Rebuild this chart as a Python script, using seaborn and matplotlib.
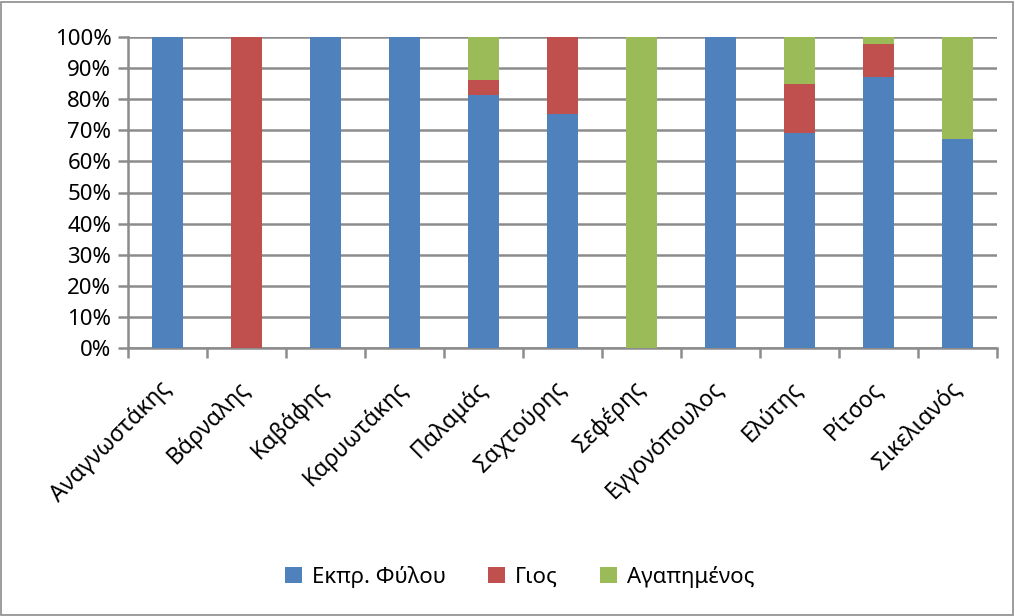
import matplotlib
matplotlib.use("Agg")
import matplotlib.pyplot as plt
import seaborn as sns
import pandas as pd
import numpy as np
from matplotlib.ticker import FixedLocator, PercentFormatter
from matplotlib.patches import Patch

poets = ["Αναγνωστάκης", "Βάρναλης", "Καβάφης", "Καρυωτάκης", "Παλαμάς", "Σαχτούρης",
         "Σεφέρης", "Εγγονόπουλος", "Ελύτης", "Ρίτσος", "Σικελιανός"]
ekpr_fylou = [100, 0, 100, 100, 81.4, 75.3, 0, 100, 69.0, 87.0, 67.1]
gios = [0, 100, 0, 0, 4.9, 24.7, 0, 0, 15.9, 10.8, 0]
agapimenos = [0, 0, 0, 0, 13.7, 0, 100, 0, 15.1, 2.2, 32.9]
series_names = ["Εκπρ. Φύλου", "Γιος", "Αγαπημένος"]
colors = ["#4F81BD", "#C0504D", "#9BBB59"]

sns.set_theme(style="white")
plt.rcParams['font.family'] = ['Noto Sans', 'DejaVu Sans']
plt.rcParams['text.color'] = '#000000'

df = pd.DataFrame({"poet": poets, "a": ekpr_fylou, "b": gios, "c": agapimenos})
df["top_c"] = df["a"] + df["b"] + df["c"]
df["top_b"] = df["a"] + df["b"]
df["top_a"] = df["a"]

fig = plt.figure(figsize=(10.15, 6.16), dpi=100)
ax = fig.add_axes([128/1015, 1 - 348/616, (997-128)/1015, (348-37)/616])

for col, c in zip(["top_c", "top_b", "top_a"], colors[::-1]):
    sns.barplot(data=df, x="poet", y=col, color=c, width=0.4, ax=ax,
                saturation=1, linewidth=0, zorder=3)

ax.set_ylim(0, 100)
ax.set_xlim(-0.5, len(poets) - 0.5)
ax.set_yticks(np.arange(0, 101, 10))
ax.yaxis.set_major_formatter(PercentFormatter(decimals=0))
ax.set_xlabel("")
ax.set_ylabel("")
ax.grid(axis="y", color="#8C8C8C", linewidth=1.8, zorder=0)
ax.set_axisbelow(True)
for s in ["top", "right"]:
    ax.spines[s].set_visible(False)
for s in ["left", "bottom"]:
    ax.spines[s].set_color("#8C8C8C")
    ax.spines[s].set_linewidth(1.8)

ax.tick_params(axis="y", which="major", length=7, width=1.8, color="#8C8C8C",
               direction="out", labelsize=16, pad=5, left=True, labelcolor="black")
ax.set_xticks(range(len(poets)))
ax.set_xticklabels(poets, rotation=45, ha="right", va="center", rotation_mode="anchor",
                   fontsize=16.5, color="black")
ax.tick_params(axis="x", which="major", length=0, pad=27)
ax.xaxis.set_minor_locator(FixedLocator(np.arange(-0.5, len(poets), 1)))
ax.tick_params(axis="x", which="minor", length=7, width=1.8, color="#8C8C8C",
               direction="out", bottom=True)

handles = [Patch(facecolor=c, edgecolor="none") for c in colors]
fig.legend(handles, series_names, loc="center", bbox_to_anchor=(0.512, 1 - 577/616),
           ncol=3, frameon=False, fontsize=16, handlelength=0.75, handleheight=0.75,
           columnspacing=1.9, handletextpad=0.45)

border = plt.Rectangle((1/1015, 1/616), 1 - 3/1015, 1 - 3/616, transform=fig.transFigure,
                       fill=False, edgecolor="#8C8C8C", linewidth=1.2)
fig.patches.append(border)

fig.savefig("out.png", dpi=100, facecolor="white")
